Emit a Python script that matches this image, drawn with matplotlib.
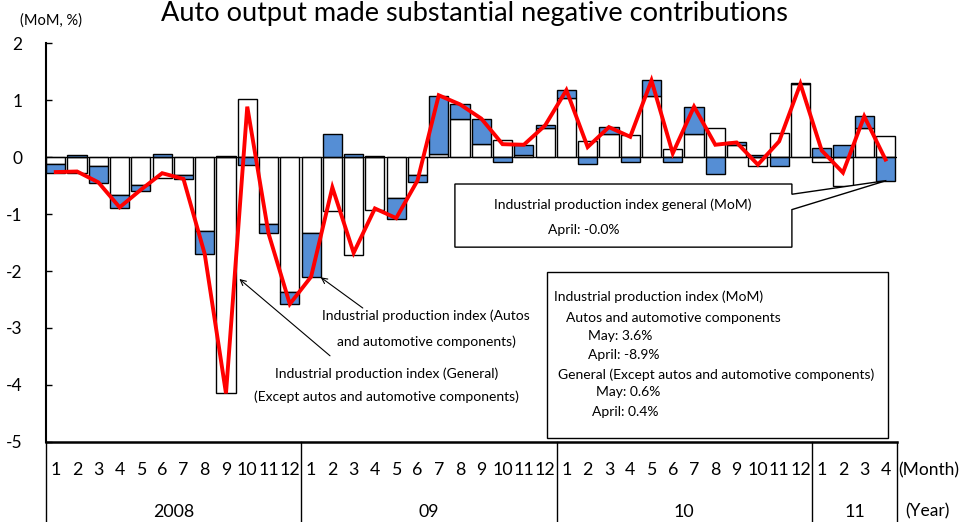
import matplotlib
matplotlib.use("Agg")
import matplotlib.pyplot as plt
from matplotlib.patches import Polygon, Rectangle
from matplotlib.transforms import blended_transform_factory

# Month-on-month contributions (%), Jan 2008 .. Apr 2011
year_labels = ["2008", "09", "10", "11"]
year_lengths = [12, 12, 12, 4]
general_ex_autos = [
    -0.12, -0.27, -0.16, -0.66, -0.49, -0.36, -0.31, -1.29, -4.15, 1.02, -1.17, -2.37,
    -1.33, -0.94, -1.72, -0.92, -0.72, -0.31, 0.05, 0.68, 0.24, 0.31, 0.04, 0.51,
    1.05, 0.28, 0.41, 0.39, 1.08, 0.14, 0.41, 0.51, 0.22, -0.16, 0.43, 1.28,
    -0.08, -0.51, 0.52, 0.37,
]
autos = [
    -0.15, 0.04, -0.29, -0.23, -0.10, 0.06, -0.07, -0.41, 0.02, -0.13, -0.16, -0.21,
    -0.77, 0.41, 0.06, 0.02, -0.37, -0.12, 1.03, 0.25, 0.44, -0.08, 0.18, 0.05,
    0.14, -0.12, 0.12, -0.08, 0.27, -0.08, 0.47, -0.29, 0.04, 0.04, -0.16, 0.03,
    0.17, 0.22, 0.20, -0.41,
]
general_total = [
    -0.26, -0.25, -0.44, -0.88, -0.57, -0.28, -0.38, -1.70, -4.15, 0.89, -1.34, -2.58,
    -2.10, -0.53, -1.68, -0.90, -1.07, -0.41, 1.09, 0.93, 0.68, 0.23, 0.22, 0.56,
    1.18, 0.18, 0.53, 0.36, 1.35, 0.07, 0.89, 0.22, 0.26, -0.13, 0.28, 1.29,
    0.12, -0.27, 0.72, -0.04,
]
month_labels = [str(m) for n in year_lengths for m in range(1, n + 1)]

W, H = 963, 522
plt.rcParams["font.family"] = ["Lato", "DejaVu Sans"]
plt.rcParams["axes.unicode_minus"] = False
fig = plt.figure(figsize=(W / 100, H / 100), dpi=100)
ax = fig.add_axes([46 / W, (H - 441.7) / H, (897 - 46) / W, (441.7 - 43.5) / H])

n = len(autos)
x = [i + 0.46 for i in range(n)]

# Excel-style stacking: positives stack up, negatives stack down
blue_bottom = [g if g * a > 0 else 0 for g, a in zip(general_ex_autos, autos)]
ax.bar(x, general_ex_autos, width=0.9, color="white", edgecolor="black", linewidth=1.0, zorder=2)
ax.bar(x, autos, bottom=blue_bottom, width=0.9, color="#558ed5", edgecolor="black", linewidth=1.0, zorder=2)
ax.axhline(0, color="black", linewidth=0.9, zorder=3)
ax.plot(x, general_total, color="#ff0000", linewidth=2.8, solid_joinstyle="miter", zorder=4)

ax.set_xlim(0, n)
ax.set_ylim(-5, 2)
ax.set_yticks(range(-5, 3))
ax.set_xticks([])
ax.tick_params(axis="y", direction="in", length=4, width=1, pad=17, labelsize=12.5)
for s in ["top", "right"]:
    ax.spines[s].set_visible(False)
ax.spines["left"].set_linewidth(1.5)
ax.spines["bottom"].set_linewidth(1.8)

# category table below the axis
tr = blended_transform_factory(ax.transData, ax.transAxes)
bottom_frac = -80.3 / 398.2
edges = [0]
for ln in year_lengths:
    edges.append(edges[-1] + ln)
for e in edges:
    ax.plot([e, e], [0, bottom_frac], color="black", linewidth=1.0, transform=tr, clip_on=False)
for xi, lab in zip(x, month_labels):
    ax.text(xi, -0.072, lab, transform=tr, ha="center", va="center", fontsize=12.8)
for a, b, lab in zip(edges[:-1], edges[1:], year_labels):
    ax.text((a + b) / 2, -0.176, lab, transform=tr, ha="center", va="center", fontsize=12.8)
ax.text(40.08, -0.072, "(Month)", transform=tr, ha="left", va="center", fontsize=12.5)
ax.text(40.4, -0.176, "(Year)", transform=tr, ha="left", va="center", fontsize=12.5)

fig.text(474 / W, 1 - 21 / H, "Auto output made substantial negative contributions",
         ha="center", va="baseline", fontsize=19.5)
fig.text(20 / W, 1 - 25 / H, "(MoM, %)", ha="left", va="baseline", fontsize=10.5)

# callout for the general index
tip = (39.5, autos[-1])
callout = Polygon([(19.22, -0.47), (35.06, -0.47), (35.06, -0.65), tip, (35.06, -0.92),
                   (35.06, -1.58), (19.22, -1.58)], closed=True, facecolor="white",
                  edgecolor="black", linewidth=1.0, zorder=5, clip_on=False)
ax.add_patch(callout)
ax.text(27.1, -0.83, "Industrial production index general (MoM)", ha="center", va="center",
        fontsize=10, zorder=6)
ax.text(23.6, -1.28, "April: -0.0%", ha="left", va="center", fontsize=10, zorder=6)

# box with May/April figures
ax.add_patch(Rectangle((23.53, -4.93), 39.56 - 23.53, -2.01 + 4.93, facecolor="white",
                       edgecolor="black", linewidth=1.0, zorder=5, clip_on=False))
box_lines = [
    (23.88, -2.455, "Industrial production index (MoM)"),
    (24.44, -2.82, "Autos and automotive components"),
    (25.48, -3.15, "May: 3.6%"),
    (25.48, -3.47, "April: -8.9%"),
    (24.07, -3.82, "General (Except autos and automotive components)"),
    (25.85, -4.13, "May: 0.6%"),
    (25.66, -4.47, "April: 0.4%"),
]
for bx, by, t in box_lines:
    ax.text(bx, by, t, ha="left", va="center", fontsize=10, zorder=6)

# labels with arrows
ax.text(17.86, -2.79, "Industrial production index (Autos", ha="center", va="center", fontsize=10)
ax.text(17.86, -3.24, "and automotive components)", ha="center", va="center", fontsize=10)
ax.text(16.0, -3.80, "Industrial production index (General)", ha="center", va="center", fontsize=10)
ax.text(16.0, -4.21, "(Except autos and automotive components)", ha="center", va="center", fontsize=10)
ax.annotate("", xy=(12.91, -2.11), xytext=(14.89, -2.65),
            arrowprops=dict(arrowstyle="->", color="black", lw=0.8, shrinkA=0, shrinkB=0), zorder=6)
ax.annotate("", xy=(9.09, -2.14), xytext=(13.35, -3.49),
            arrowprops=dict(arrowstyle="->", color="black", lw=0.8, shrinkA=0, shrinkB=0), zorder=6)

fig.savefig("out.png", dpi=100)
